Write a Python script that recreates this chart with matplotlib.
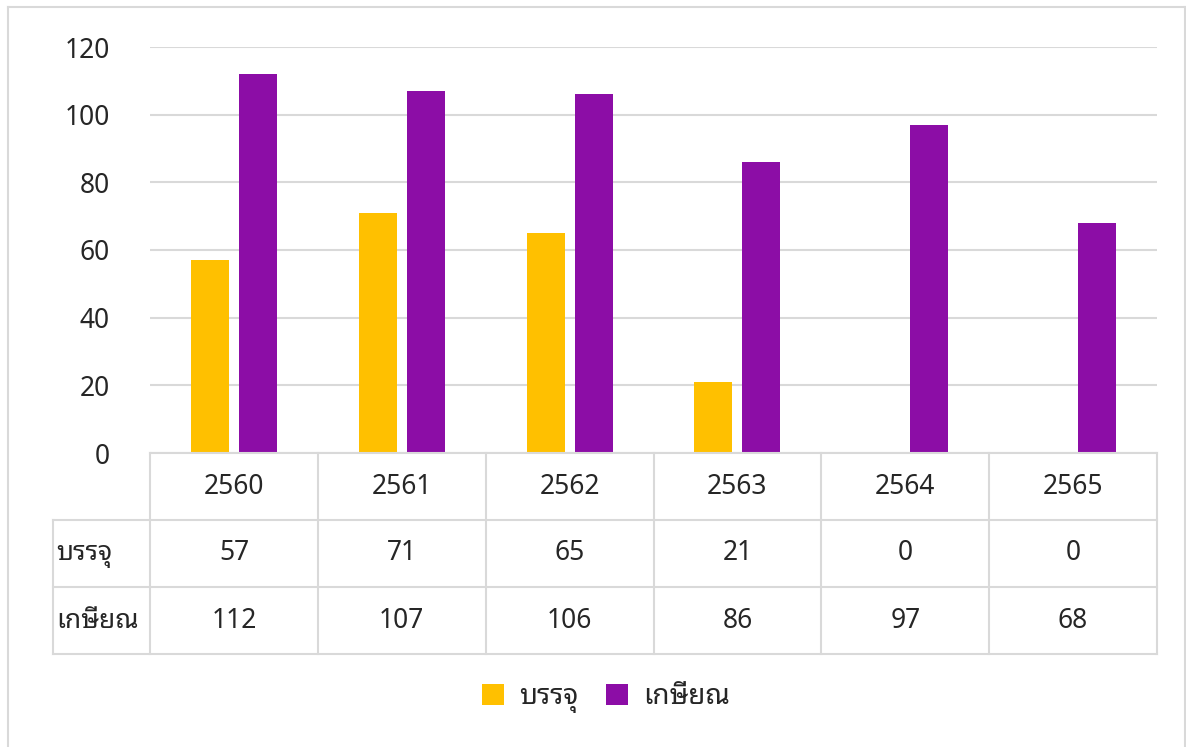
import numpy as np
import matplotlib
matplotlib.use('Agg')
import matplotlib.pyplot as plt

years = ['2560', '2561', '2562', '2563', '2564', '2565']
series = ['บรรจุ', 'เกษียณ']
fill = [57, 71, 65, 21, 0, 0]
retire = [112, 107, 106, 86, 97, 68]
colors = ['#FFC000', '#8C0DA6']

plt.rcParams['font.family'] = ['Noto Sans Thai Looped', 'DejaVu Sans']
grid_c = '#D9D9D9'
txt_c = '#262626'

W, H = 1186, 747
fig = plt.figure(figsize=(W / 100, H / 100), dpi=100)

def fx(x):
    return x / W

def fy(y):
    return 1 - y / H

# outer chart border
fig.add_artist(plt.Line2D([fx(8), fx(8)], [fy(7), 0], color=grid_c, lw=1.5))
fig.add_artist(plt.Line2D([fx(8), fx(1185)], [fy(7), fy(7)], color=grid_c, lw=1.5))
fig.add_artist(plt.Line2D([fx(1185), fx(1185)], [fy(7), 0], color=grid_c, lw=1.5))

# bar area
x0, x1, ytop, ybot = 150, 1157, 47, 453
ax = fig.add_axes([fx(x0), fy(ybot), fx(x1 - x0), (ybot - ytop) / H])
n = len(years)
x = np.arange(n) + 0.5
bw = 38 / ((x1 - x0) / n)
off = 24 / ((x1 - x0) / n)
ax.bar(x - off, fill, bw, color=colors[0], label=series[0], zorder=3)
ax.bar(x + off, retire, bw, color=colors[1], label=series[1], zorder=3)
ax.set_xlim(0, n)
ax.set_ylim(0, 120)
ax.set_yticks(range(0, 121, 20))
ax.set_xticks([])
ax.yaxis.grid(True, color=grid_c, lw=1.5, zorder=0)
for s in ax.spines.values():
    s.set_visible(False)
ax.tick_params(axis='y', length=0, pad=29, labelsize=19, labelcolor=txt_c)

# data table
row_y = [453, 520, 587, 654]
col_x = [x0 + i * (x1 - x0) / n for i in range(n + 1)]
lab_x = 53
tl = dict(color=grid_c, lw=1.5)
fig.add_artist(plt.Line2D([fx(x0), fx(x1)], [fy(row_y[0])] * 2, **tl))
for yy in row_y[1:]:
    fig.add_artist(plt.Line2D([fx(lab_x), fx(x1)], [fy(yy)] * 2, **tl))
for xx in col_x:
    fig.add_artist(plt.Line2D([fx(xx)] * 2, [fy(row_y[0]), fy(row_y[-1])], **tl))
fig.add_artist(plt.Line2D([fx(lab_x)] * 2, [fy(row_y[1]), fy(row_y[-1])], **tl))

fs = 19
for i in range(n):
    cx = fx((col_x[i] + col_x[i + 1]) / 2)
    fig.text(cx, fy((row_y[0] + row_y[1]) / 2), years[i], ha='center', va='center',
             fontsize=fs, color=txt_c)
    fig.text(cx, fy((row_y[1] + row_y[2]) / 2), str(fill[i]), ha='center', va='center',
             fontsize=fs, color=txt_c)
    fig.text(cx, fy((row_y[2] + row_y[3]) / 2), str(retire[i]), ha='center', va='center',
             fontsize=fs, color=txt_c)
fig.text(fx(56), fy((row_y[1] + row_y[2]) / 2), series[0], ha='left', va='center',
         fontsize=fs, color=txt_c)
fig.text(fx(56), fy((row_y[2] + row_y[3]) / 2), series[1], ha='left', va='center',
         fontsize=fs, color=txt_c)

# legend
fig.legend(loc='center', bbox_to_anchor=(fx(606), fy(698)), ncol=2, frameon=False,
           fontsize=20, handlelength=0.8, handleheight=0.8, handletextpad=0.55,
           columnspacing=1.0, labelcolor=txt_c)

fig.savefig('out.png')
